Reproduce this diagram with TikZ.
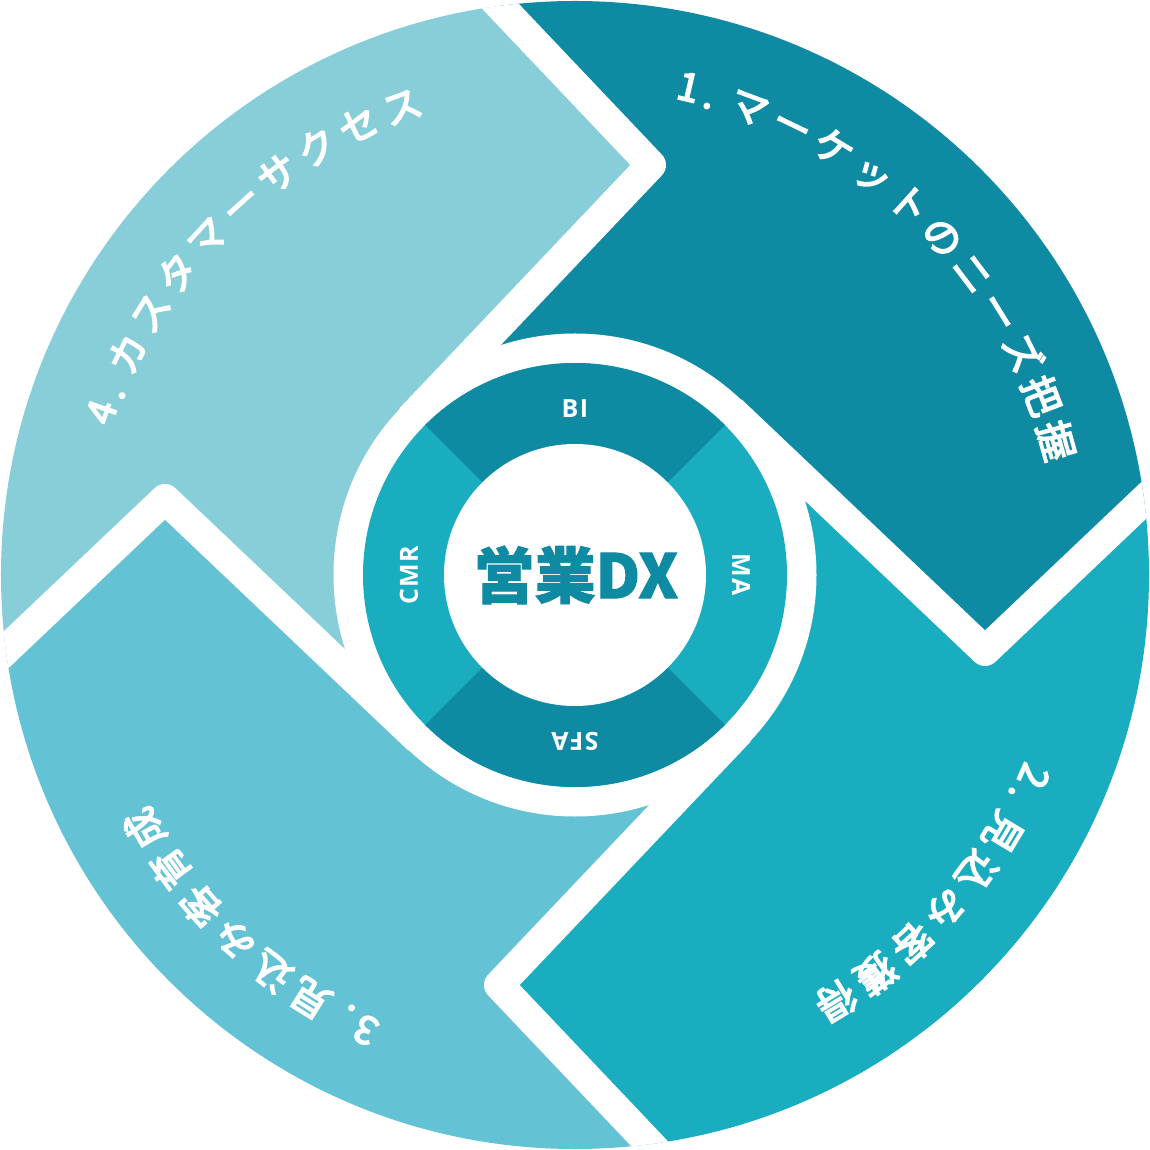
\documentclass[tikz,border=0pt]{standalone}
\usepackage{fontspec}
\newfontfamily\jp[BoldFeatures={FakeBold=1.5}]{Noto Sans CJK JP}
\newfontfamily\jpm[FakeBold=4]{Noto Sans CJK JP}
\newfontfamily\lab[LetterSpace=6]{Open Sans}
\definecolor{qa}{RGB}{14,138,162}
\definecolor{qb}{RGB}{26,173,191}
\definecolor{qc}{RGB}{99,194,212}
\definecolor{qd}{RGB}{135,206,216}
\tikzset{
  band/.style={white, line width=30, line join=round, line cap=butt},
  arctext/.style={text=white, font=\jpm\fontsize{39}{40}\selectfont, anchor=base, inner sep=0pt},
  ringlabel/.style={text=white, font=\lab\bfseries\fontsize{25}{25}\selectfont, anchor=center, inner sep=0pt}
}
\begin{document}
\begin{tikzpicture}[x=1pt,y=1pt]
\useasboundingbox (-575,-575) rectangle (575,575);
% quadrants
\begin{scope}
  \clip (0,0) circle (574);
  \foreach \k/\col in {0/qa,1/qb,2/qc,3/qd}{
    \fill[\col, rotate=-90*\k] (-213.1,714.7) -- (76,410) -- (-164.73,156.32) -- (0,0)
      -- (156.32,164.73) -- (410,-76) -- (714.7,213.1) -- (800,800) -- cycle;
  }
  \foreach \k in {0,1,2,3}{
    \draw[band, rotate=-90*\k] (-213.1,714.7) -- (76,410) -- (-164.73,156.32);
  }
\end{scope}
% white gap and inner ring
\fill[white] (0,0) circle (241.5);
\fill[qb] (0,0) circle (212);
\fill[qa] (0,0) -- (45:212) arc[start angle=45, end angle=135, radius=212] -- cycle;
\fill[qa] (0,0) -- (225:212) arc[start angle=225, end angle=315, radius=212] -- cycle;
\fill[white] (0,0) circle (131);
% ring labels
\node[ringlabel] (bi) at (90:166) {BI};
\node[ringlabel, rotate=-90] (ma) at (0:166) {MA};
\node[ringlabel, rotate=180] (sfa) at (270:166) {SFA};
\node[ringlabel, rotate=90] (cmr) at (180:166) {CMR};
% center
\node[font=\jp\bfseries\fontsize{61}{61}\selectfont, text=qa, inner sep=0pt] (dx) at (1,0) {営業DX};
% arc texts
% text 1
\node[arctext, rotate=76.9-90] (t1n) at (76.9:487) {1};
\node[arctext, rotate=74.3-90] (t1d) at (74.3:485) {.};
\foreach \c [count=\i from 0] in {マ,ー,ケ,ッ,ト,の,ニ,ー,ズ,把,握}{
  \pgfmathsetmacro\a{69.6-5.4*\i}
  \node[arctext, rotate=\a-90] (t1c\i) at (\a:485) {\c};
}
% text 2
\node[arctext, rotate=-23.7-90] (t2n) at (-23.7:487) {2};
\node[arctext, rotate=-26.3-90] (t2d) at (-26.3:485) {.};
\foreach \c [count=\i from 0] in {見,込,み,客,獲,得}{
  \pgfmathsetmacro\a{-31-5.5*\i}
  \node[arctext, rotate=\a-90] (t2c\i) at (\a:485) {\c};
}
% text 3
\node[arctext, rotate=245.3-90] (t3n) at (245.3:487) {3};
\node[arctext, rotate=242.7-90] (t3d) at (242.7:485) {.};
\foreach \c [count=\i from 0] in {見,込,み,客,育,成}{
  \pgfmathsetmacro\a{238-5.5*\i}
  \node[arctext, rotate=\a-90] (t3c\i) at (\a:485) {\c};
}
% text 4
\node[arctext, rotate=161-90] (t4n) at (161:487) {4};
\node[arctext, rotate=158.4-90] (t4d) at (158.4:485) {.};
\foreach \c [count=\i from 0] in {カ,ス,タ,マ,ー,サ,ク,セ,ス}{
  \pgfmathsetmacro\a{153.7-5.43*\i}
  \node[arctext, rotate=\a-90] (t4c\i) at (\a:485) {\c};
}
\end{tikzpicture}
\end{document}
